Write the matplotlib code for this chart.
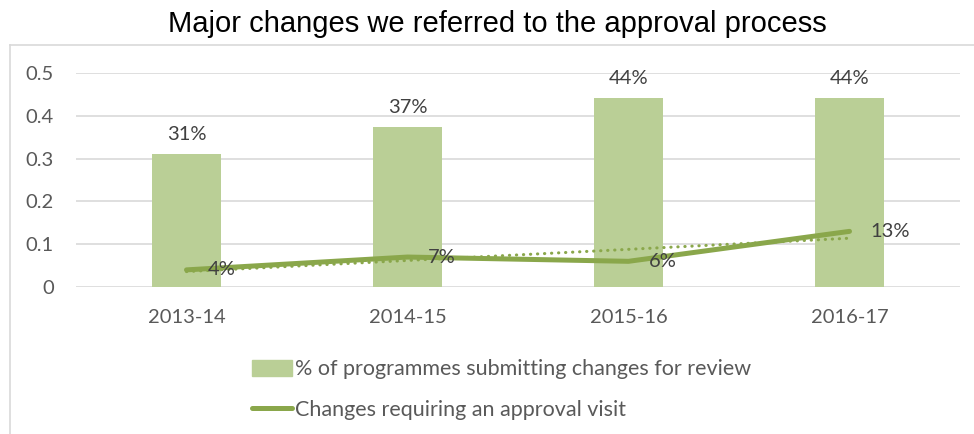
import matplotlib.pyplot as plt
import numpy as np
from matplotlib.lines import Line2D
from matplotlib.patches import Patch

# Data
years = ["2013-14", "2014-15", "2015-16", "2016-17"]
submitting = [0.31, 0.373, 0.442, 0.442]
visits = [0.04, 0.07, 0.06, 0.13]
bar_labels = ["31%", "37%", "44%", "44%"]
line_labels = ["4%", "7%", "6%", "13%"]

bar_color = "#bacf96"
line_color = "#8aa74b"
text_color = "#595959"
grid_color = "#d9d9d9"
label_font = ["Lato", "DejaVu Sans"]

fig = plt.figure(figsize=(9.74, 4.34), dpi=100)
ax = fig.add_axes([76 / 974, 1 - 287 / 434, (960 - 76) / 974, (287 - 73) / 434])

x = np.arange(len(years))

# Bars
ax.bar(x, submitting, width=0.31, color=bar_color, zorder=2)
for xi, v, lab in zip(x, submitting, bar_labels):
    ax.annotate(lab, (xi, v), xytext=(0, 8), textcoords="offset points",
                ha="center", va="bottom", fontsize=14.5, color="#404040",
                family=label_font)

# Linear trendline of the visits series
slope, intercept = np.polyfit(x, visits, 1)
ax.plot(x, slope * x + intercept, color=line_color, lw=2.2,
        linestyle=(0, (0.1, 2.2)), dash_capstyle="round", zorder=3)

# Line
ax.plot(x, visits, color=line_color, lw=3.6, solid_capstyle="round",
        solid_joinstyle="round", zorder=4)
for xi, v, lab in zip(x, visits, line_labels):
    ax.annotate(lab, (xi, v), xytext=(15, 0), textcoords="offset points",
                ha="left", va="center", fontsize=14.5, color="#404040",
                family=label_font, zorder=5)

ax.set_xlim(-0.5, 3.5)
ax.set_ylim(0, 0.5)
ax.set_yticks([0, 0.1, 0.2, 0.3, 0.4, 0.5])
ax.set_yticklabels(["0", "0.1", "0.2", "0.3", "0.4", "0.5"])
ax.set_xticks(x)
ax.set_xticklabels(years)
for lbl in ax.get_xticklabels() + ax.get_yticklabels():
    lbl.set_family(label_font)
    lbl.set_fontsize(14.5)
    lbl.set_color(text_color)
ax.tick_params(length=0)
ax.tick_params(axis="y", pad=16)
ax.tick_params(axis="x", pad=16)
ax.grid(axis="y", color=grid_color, lw=1.2, zorder=0)
for s in ax.spines.values():
    s.set_visible(False)

fig.suptitle("Major changes we referred to the approval process",
             x=0.511, y=0.978, fontsize=21, family="Liberation Sans",
             color="black")

# Chart frame (partially visible)
fig.add_artist(Line2D([10 / 974, 1], [1 - 45 / 434, 1 - 45 / 434],
                      transform=fig.transFigure, color=grid_color, lw=1.2))
fig.add_artist(Line2D([10 / 974, 10 / 974], [0, 1 - 45 / 434],
                      transform=fig.transFigure, color=grid_color, lw=1.2))

# Legend
handles = [Patch(color=bar_color),
           Line2D([0], [0], color=line_color, lw=3.6, solid_capstyle="round")]
labels = ["% of programmes submitting changes for review",
          "Changes requiring an approval visit"]
fig.legend(handles, labels, loc="upper left",
           bbox_to_anchor=(233 / 974, 1 - 340 / 434),
           frameon=False, handlelength=1.85, handleheight=0.8,
           handletextpad=0.15, labelspacing=0.95,
           prop={"family": label_font, "size": 15.5}, labelcolor=text_color)

fig.savefig("out.png", dpi=100)
